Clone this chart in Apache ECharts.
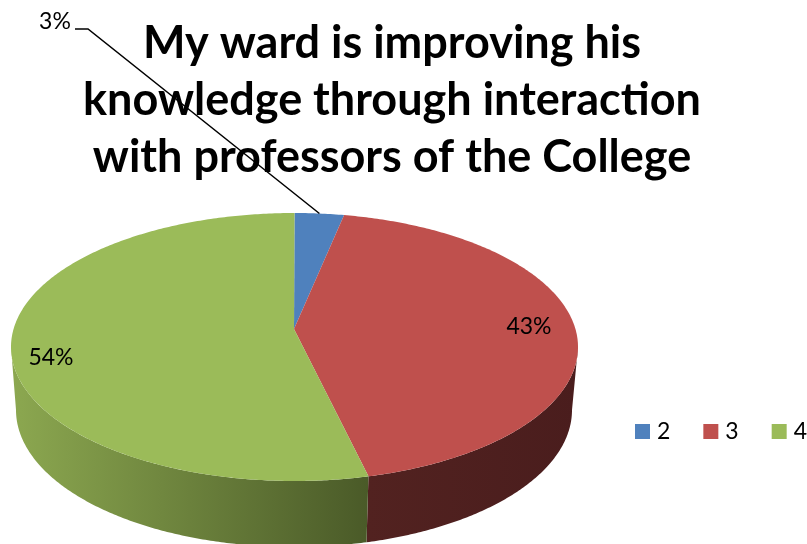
<!DOCTYPE html>
<html><head><meta charset="utf-8">
<style>html,body{margin:0;padding:0;background:#fff}#c{width:807px;height:544px}</style>
<script src="https://cdn.jsdelivr.net/npm/echarts@6/dist/echarts.min.js"></script>
</head><body><div id="c"></div>
<script>
const categories = ['2', '3', '4'];
const values = [2.8, 43, 54.2];
const topColors = ['#4F81BD', '#BF504D', '#9BBB59'];
const wallStops = [['#3A5F8C', '#3A5F8C'], ['#522220', '#4A1D1D'], ['#8CA850', '#4A5A28']];
const labelAnchors = [[55, 22], [529, 327], [51, 358]];
const titleLines = ['My ward is improving his', 'knowledge through interaction', 'with professors of the College'];

const apex = [294, 329];
const topRim = {cx: 294.5, cy: 347, rx: 283.5, ry: 134};
const lowRim = {cx: 294, cy: 410, rx: 278, ry: 137};
const total = values.reduce((a, b) => a + b, 0);
const rimPoint = (r, t) => [r.cx + r.rx * Math.sin(t), r.cy - r.ry * Math.cos(t)];
function arcPoints(r, a, b) {
  const n = Math.max(2, Math.ceil(Math.abs(b - a) / 0.01));
  const out = [];
  for (let i = 0; i <= n; i++) out.push(rimPoint(r, a + (b - a) * i / n));
  return out;
}
function renderSlice(index) {
  return function (params, api) {
    const before = values.slice(0, index).reduce((a, b) => a + b, 0);
    const a = before / total * 2 * Math.PI;
    const b = a + api.value(0) / total * 2 * Math.PI;
    const children = [];
    const wa = Math.max(a, Math.PI / 2), wb = Math.min(b, 3 * Math.PI / 2);
    if (wb > wa) {
      const upper = arcPoints(topRim, wa, wb);
      const lower = arcPoints(lowRim, wa, wb).reverse();
      const stops = wallStops[index];
      children.push({
        type: 'polygon', shape: {points: upper.concat(lower)},
        style: {fill: new echarts.graphic.LinearGradient(0, 0, 1, 0, [
          {offset: 0, color: stops[0]}, {offset: 1, color: stops[1]}
        ])},
        silent: true
      });
    }
    children.push({
      type: 'polygon', shape: {points: [apex].concat(arcPoints(topRim, a, b))},
      style: {fill: topColors[index]}, silent: true
    });
    const anchor = labelAnchors[index];
    const label = Math.round(api.value(0) / total * 100) + '%';
    if (index === 0) {
      const mid = rimPoint(topRim, (a + b) / 2);
      children.push({
        type: 'polyline',
        shape: {points: [[75, 29], [88, 29], mid]},
        style: {stroke: '#000', lineWidth: 1.5, fill: 'none'},
        silent: true
      });
    }
    children.push({
      type: 'text', silent: true,
      style: {x: anchor[0], y: anchor[1], text: label, fill: '#000',
        font: '23px Lato', textAlign: 'center', textVerticalAlign: 'middle'}
    });
    return {type: 'group', children};
  };
}
const chart = echarts.init(document.getElementById('c'), null, {renderer: 'canvas'});
chart.setOption({
  animation: false,
  backgroundColor: '#fff',
  title: {
    text: titleLines.join('\n'), left: 387, top: 10, textAlign: 'center',
    textStyle: {fontFamily: 'Lato', fontWeight: 'bold', fontSize: 45, lineHeight: 57, color: '#000'}
  },
  legend: {
    data: categories, left: 630, top: 415, width: 177, itemWidth: 15, itemHeight: 15, itemGap: 33,
    icon: 'rect', selectedMode: false,
    textStyle: {fontFamily: 'Lato', fontSize: 23, color: '#000', padding: [0, 0, 0, 2]}
  },
  series: categories.map((name, i) => ({
    type: 'custom', name, coordinateSystem: 'none', z: 2,
    itemStyle: {color: topColors[i]},
    data: [[values[i]]],
    renderItem: renderSlice(i)
  }))
});
</script></body></html>
